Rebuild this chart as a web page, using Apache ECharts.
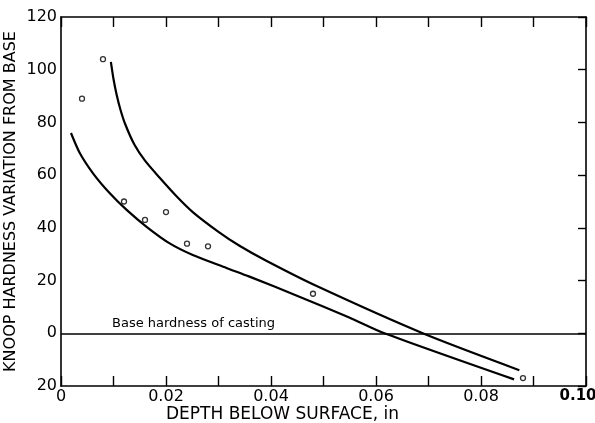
<!DOCTYPE html>
<html><head><meta charset="utf-8">
<script src="https://cdn.jsdelivr.net/npm/echarts@6/dist/echarts.min.js"></script>
<style>html,body{margin:0;padding:0;background:#fff}#c{width:595px;height:423px}</style>
</head><body><div id="c"></div>
<script>
// Measured points (depth in, Knoop variation)
var pointsX = [0.004, 0.008, 0.012, 0.016, 0.020, 0.024, 0.028, 0.048, 0.088];
var pointsY = [89, 104, 50, 43, 46, 34, 33, 15, -17];
// Upper curve
var upperX = [0.0095, 0.0100, 0.0106, 0.0113, 0.0122, 0.0140, 0.0160, 0.0188, 0.0220, 0.0251, 0.0300, 0.0340, 0.0391, 0.0486, 0.0689, 0.0873];
var upperY = [103, 96.5, 90.5, 85, 79.5, 71.5, 65.5, 59, 52, 46, 38.5, 33.2, 27.5, 18, 0, -14];
// Lower curve
var lowerX = [0.0019, 0.0036, 0.0061, 0.0093, 0.0125, 0.0163, 0.0207, 0.0251, 0.0315, 0.0359, 0.0454, 0.0549, 0.0616, 0.0863];
var lowerY = [76, 68.3, 60.7, 53.1, 46.8, 40.4, 34.1, 29.7, 24.8, 21.5, 13.9, 6.0, 0, -17.5];
var baseLevel = 0;
var baseLabel = 'Base hardness of casting';
var xTitle = 'DEPTH BELOW SURFACE, in';
var yTitle = 'KNOOP HARDNESS VARIATION FROM BASE';

function zip(a, b) { return a.map(function (v, i) { return [v, b[i]]; }); }

var font = 'DejaVu Sans';
var chart = echarts.init(document.getElementById('c'), null, {renderer: 'canvas'});
var axLine = {show: true, onZero: false, lineStyle: {color: '#000', width: 1.6}};
chart.setOption({
  animation: false,
  backgroundColor: '#fff',
  grid: {left: 61, right: 9, top: 17, bottom: 37, containLabel: false, outerBoundsMode: 'none'},
  xAxis: [{
    type: 'value', min: 0, max: 0.10, interval: 0.01, position: 'bottom',
    axisLine: axLine,
    axisTick: {show: true, inside: true, length: 10, lineStyle: {color: '#000', width: 1.4}},
    splitLine: {show: false},
    axisLabel: {
      color: '#000', fontFamily: font, fontSize: 16, margin: 3,
      formatter: function (v) {
        var k = Math.round(v * 100);
        if (k === 0) return '0';
        if (k % 2) return '';
        if (k === 10) return '{b|0.10}';
        return (k / 100).toFixed(2);
      },
      rich: {b: {fontWeight: 'bold', fontSize: 15, fontFamily: font, color: '#000', padding: [0, 16, 0, 0]}}
    },
    name: xTitle, nameLocation: 'middle', nameGap: 20, nameMoveOverlap: false,
    nameTextStyle: {color: '#000', fontFamily: font, fontSize: 17, padding: [0, 82, 0, 0]}
  }, {
    type: 'value', min: 0, max: 0.10, interval: 0.01, position: 'top',
    axisLine: axLine,
    axisTick: {show: true, inside: true, length: 10, lineStyle: {color: '#000', width: 1.4}},
    axisLabel: {show: false}, splitLine: {show: false}
  }],
  yAxis: [{
    type: 'value', min: -20, max: 120, interval: 20, position: 'left',
    axisLine: axLine, axisTick: {show: false}, splitLine: {show: false},
    axisLabel: {color: '#000', fontFamily: font, fontSize: 16, margin: 4,
      formatter: function (v) { return String(Math.abs(v)); }},
    name: yTitle, nameLocation: 'middle', nameGap: 42, nameRotate: 90, nameMoveOverlap: false,
    nameTextStyle: {color: '#000', fontFamily: font, fontSize: 16}
  }, {
    type: 'value', min: -20, max: 120, interval: 20, position: 'right',
    axisLine: axLine,
    axisTick: {show: true, inside: true, length: 8, lineStyle: {color: '#000', width: 1.4}},
    axisLabel: {show: false}, splitLine: {show: false}
  }],
  series: [{
    type: 'line', data: zip(upperX, upperY), smooth: 0.25, showSymbol: false,
    lineStyle: {color: '#000', width: 2.2}, z: 3
  }, {
    type: 'line', data: zip(lowerX, lowerY), smooth: 0.25, showSymbol: false,
    lineStyle: {color: '#000', width: 2.2}, z: 3,
    markLine: {
      silent: true, symbol: ['none', 'none'],
      lineStyle: {color: '#000', width: 1.6, type: 'solid'},
      label: {show: true, position: 'insideStartTop', formatter: baseLabel,
        color: '#000', fontFamily: font, fontSize: 13, distance: [51, 3]},
      data: [{yAxis: baseLevel}]
    }
  }, {
    type: 'scatter', data: zip(pointsX, pointsY), symbol: 'circle', symbolSize: 5,
    itemStyle: {color: '#fff', borderColor: '#000', borderWidth: 1.3}, z: 4
  }]
});
</script></body></html>
